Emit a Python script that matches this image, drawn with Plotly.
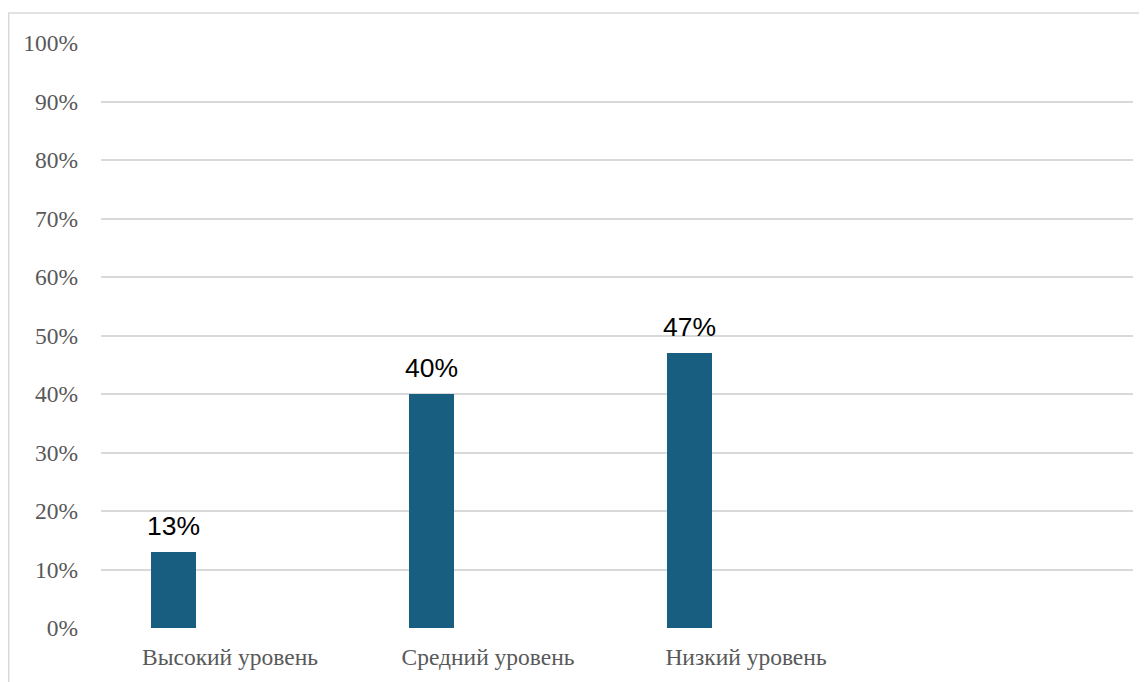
import plotly.graph_objects as go

categories = ["Высокий уровень", "Средний уровень", "Низкий уровень", ""]
values = [0.13, 0.40, 0.47]
labels = ["13%", "40%", "47%"]
y_ticks = [0, 0.1, 0.2, 0.3, 0.4, 0.5, 0.6, 0.7, 0.8, 0.9, 1.0]

BAR_W = 0.174
BAR_OFF = -0.306
idx = list(range(len(values)))

fig = go.Figure()
fig.add_trace(go.Bar(
    x=idx, y=values, width=BAR_W, offset=BAR_OFF,
    marker=dict(color="#175E80", line=dict(width=0)),
    hoverinfo="skip",
))

for i, v, t in zip(idx, values, labels):
    fig.add_annotation(
        x=i + BAR_OFF + BAR_W / 2, y=v, xref="x", yref="y",
        text=t, showarrow=False, yanchor="bottom", yshift=9,
        font=dict(family="Liberation Sans, Arial", size=26.5, color="#000000"),
    )

# outer chart border (cropped by the picture edge)
fig.add_shape(type="rect", xref="paper", yref="paper",
              x0=-0.0894, x1=1.03, y0=-0.12, y1=1.0513,
              line=dict(color="#d9d9d9", width=1.5), fillcolor="rgba(0,0,0,0)",
              layer="below")

fig.update_layout(
    width=1139, height=674,
    margin=dict(l=93, r=14, t=35, b=54),
    paper_bgcolor="white", plot_bgcolor="white",
    showlegend=False,
    bargap=0,
    xaxis=dict(
        range=[-0.5, 3.5],
        tickvals=list(range(len(categories))), ticktext=categories,
        showgrid=False, zeroline=False, showline=False, ticks="",
        tickfont=dict(family="Liberation Serif, Times New Roman", size=23.5, color="#595959"),
        ticklabelstandoff=12,
    ),
    yaxis=dict(
        range=[0, 1.0], tickvals=y_ticks, tickformat=".0%",
        showgrid=True, gridcolor="#d9d9d9", gridwidth=1.5,
        zeroline=False, showline=False, ticks="",
        tickfont=dict(family="Liberation Serif, Times New Roman", size=23.5, color="#595959"),
        ticklabelstandoff=22,
    ),
)

fig.write_html("out.html")
